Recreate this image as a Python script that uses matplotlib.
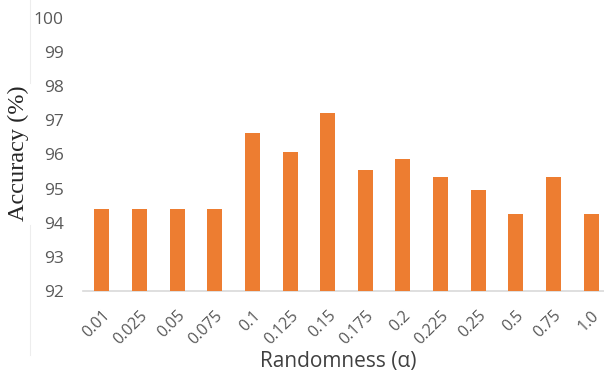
import matplotlib
matplotlib.use("Agg")
import matplotlib.pyplot as plt
from matplotlib.lines import Line2D
import numpy as np

categories = ["0.01", "0.025", "0.05", "0.075", "0.1", "0.125", "0.15",
              "0.175", "0.2", "0.225", "0.25", "0.5", "0.75", "1.0"]
accuracy = [94.40, 94.40, 94.40, 94.40, 96.64, 96.08, 97.21,
            95.54, 95.88, 95.34, 94.97, 94.26, 95.35, 94.26]
yticks = [92, 93, 94, 95, 96, 97, 98, 99, 100]

W, H = 604, 374
fig = plt.figure(figsize=(6.04, 3.74), dpi=100)
ax = fig.add_axes([83/W, 1-291/H, (610-83)/W, (291-18)/H])

x = np.arange(len(categories))
ax.bar(x, accuracy, width=0.4, color="#ED7D31", zorder=3)
ax.set_ylim(92, 100)
ax.set_xlim(-0.5, len(categories)-0.5)
ax.set_yticks(yticks)
ax.set_xticks(x)
ax.set_xticklabels(categories, rotation=45, ha="right", rotation_mode="anchor",
                   family="Open Sans", fontsize=11.5, color="#595959")
ax.set_yticklabels([str(t) for t in yticks], family="Open Sans", fontsize=12.5, color="#595959")
for s in ["top", "right", "left"]:
    ax.spines[s].set_visible(False)
ax.spines["bottom"].set_color("#D9D9D9")
ax.spines["bottom"].set_linewidth(1.2)
ax.tick_params(axis="both", length=0)
ax.tick_params(axis="y", pad=14)
ax.tick_params(axis="x", pad=12)

fig.text(18/W, 1-153/H, "Accuracy (%)", family="Liberation Serif", fontsize=17.5,
         color="#262626", rotation=90, ha="center", va="center")
fig.text(338/W, 1-361/H, "Randomness (\u03b1)", family="Open Sans", fontsize=15,
         color="#404040", ha="center", va="center")

# faint chart-area border segments
for y0, y1 in [(0, 83), (225, 355)]:
    fig.add_artist(Line2D([30/W, 30/W], [1-y0/H, 1-y1/H], color="#EDEDED", lw=0.8))

fig.savefig("out.png", dpi=100)
